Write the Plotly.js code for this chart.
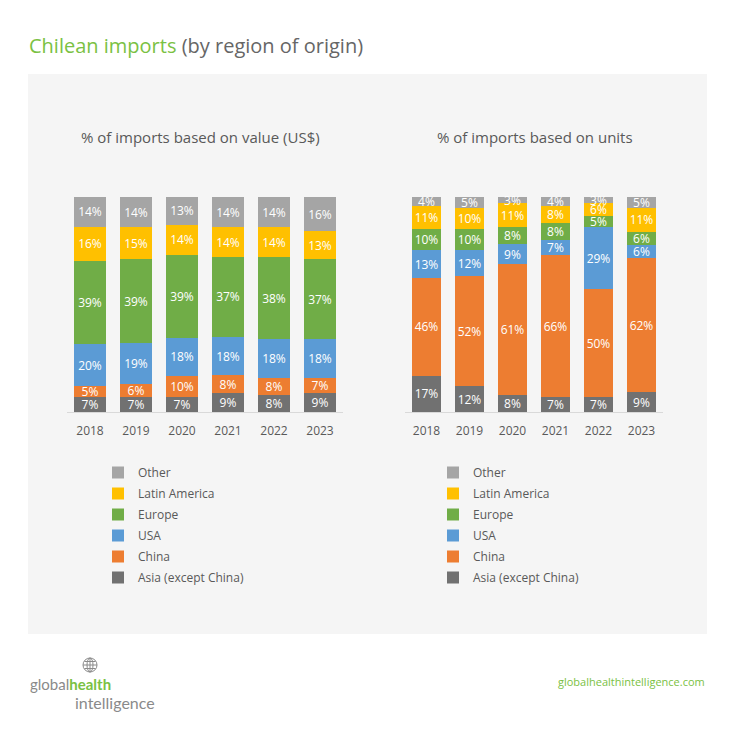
<!DOCTYPE html>
<html>
<head>
<meta charset="utf-8">
<script src="https://cdn.plot.ly/plotly-3.0.1.min.js"></script>
<style>html,body{margin:0;padding:0;background:#fff;}#chart{width:736px;height:737px;}</style>
</head>
<body>
<div id="chart"></div>
<script>
// ---- data ----
const years = ['2018', '2019', '2020', '2021', '2022', '2023'];
const regions = ['Asia (except China)', 'China', 'USA', 'Europe', 'Latin America', 'Other'];
const regionColors = ['#717171', '#ED7D31', '#5B9BD5', '#70AD47', '#FFC000', '#A5A5A5'];

// % of imports based on value (US$)
const valueAsia   = [7, 7, 7, 9, 8, 9];
const valueChina  = [5, 6, 10, 8, 8, 7];
const valueUSA    = [20, 19, 18, 18, 18, 18];
const valueEurope = [39, 39, 39, 37, 38, 37];
const valueLatAm  = [16, 15, 14, 14, 14, 13];
const valueOther  = [14, 14, 13, 14, 14, 16];

// % of imports based on units
const unitsAsia   = [17, 12, 8, 7, 7, 9];
const unitsChina  = [46, 52, 61, 66, 50, 62];
const unitsUSA    = [13, 12, 9, 7, 29, 6];
const unitsEurope = [10, 10, 8, 8, 5, 6];
const unitsLatAm  = [11, 10, 11, 8, 6, 11];
const unitsOther  = [4, 5, 3, 4, 3, 5];

const valueSeries = [valueAsia, valueChina, valueUSA, valueEurope, valueLatAm, valueOther];
const unitsSeries = [unitsAsia, unitsChina, unitsUSA, unitsEurope, unitsLatAm, unitsOther];

const W = 736, H = 737;
const px = v => v / W;
const py = v => 1 - v / H;

const FONT = '"Open Sans", Lato, sans-serif';
const LOGO_FONT = 'Lato, sans-serif';
const GREY_TEXT = '#595959';

const traces = [];
function addSeries(series, xa, ya, legendId, tag) {
  series.forEach((vals, i) => {
    traces.push({
      type: 'bar',
      name: regions[i],
      x: years,
      y: vals,
      xaxis: xa,
      yaxis: ya,
      legend: legendId,
      legendgroup: tag + i,
      legendrank: 100 - i,
      marker: {color: regionColors[i], line: {width: 0}},
      text: vals.map(v => v + '%'),
      textposition: 'inside',
      insidetextanchor: 'middle',
      constraintext: 'none',
      textangle: 0,
      textfont: {color: '#ffffff', size: 12, family: FONT},
      cliponaxis: false,
      hoverinfo: 'name+y'
    });
  });
}
addSeries(valueSeries, 'x', 'y', 'legend', 'v');
addSeries(unitsSeries, 'x2', 'y2', 'legend2', 'u');

const yDom = [py(412), py(196.5)];
const axisX = {
  type: 'category',
  showgrid: false, zeroline: false, showline: true, linecolor: '#D9D9D9', linewidth: 1,
  ticks: '', tickfont: {size: 12, color: GREY_TEXT, family: FONT}, ticklabelstandoff: 8,
  fixedrange: true, range: [-0.5, 5.5]
};
const axisY = {
  showgrid: false, zeroline: false, showline: false, showticklabels: false,
  range: [0, 100.25], fixedrange: true
};

const legendBase = {
  orientation: 'v', traceorder: 'grouped', bgcolor: 'rgba(0,0,0,0)',
  font: {size: 12, color: GREY_TEXT, family: FONT},
  xanchor: 'left', yanchor: 'top', borderwidth: 0, tracegroupgap: 2
};

const layout = {
  width: W, height: H,
  margin: {l: 0, r: 0, t: 0, b: 0},
  paper_bgcolor: '#ffffff',
  plot_bgcolor: 'rgba(0,0,0,0)',
  barmode: 'stack',
  barnorm: 'percent',
  bargap: 0.31,
  font: {family: FONT, color: GREY_TEXT},
  xaxis: Object.assign({}, axisX, {domain: [px(67), px(343)], anchor: 'y'}),
  yaxis: Object.assign({}, axisY, {domain: yDom, anchor: 'x'}),
  xaxis2: Object.assign({}, axisX, {domain: [px(405), px(663)], anchor: 'y2'}),
  yaxis2: Object.assign({}, axisY, {domain: yDom, anchor: 'x2'}),
  showlegend: true,
  legend: Object.assign({}, legendBase, {x: px(98), y: py(458)}),
  legend2: Object.assign({}, legendBase, {x: px(433), y: py(458)}),
  shapes: [
    {type: 'rect', xref: 'paper', yref: 'paper', x0: px(28), x1: px(707), y0: py(634), y1: py(74),
     fillcolor: '#F5F5F5', line: {width: 0}, layer: 'below'},
    // globe icon
    {type: 'circle', xref: 'paper', yref: 'paper', x0: px(83), x1: px(97), y0: py(672), y1: py(658),
     line: {color: '#8a8a8a', width: 1}},
    {type: 'circle', xref: 'paper', yref: 'paper', x0: px(87), x1: px(93), y0: py(672), y1: py(658),
     line: {color: '#8a8a8a', width: 1}},
    {type: 'line', xref: 'paper', yref: 'paper', x0: px(90), x1: px(90), y0: py(672), y1: py(658),
     line: {color: '#8a8a8a', width: 1}},
    {type: 'line', xref: 'paper', yref: 'paper', x0: px(83), x1: px(97), y0: py(665), y1: py(665),
     line: {color: '#8a8a8a', width: 1}},
    {type: 'line', xref: 'paper', yref: 'paper', x0: px(84.5), x1: px(95.5), y0: py(661.5), y1: py(661.5),
     line: {color: '#8a8a8a', width: 1}},
    {type: 'line', xref: 'paper', yref: 'paper', x0: px(84.5), x1: px(95.5), y0: py(668.5), y1: py(668.5),
     line: {color: '#8a8a8a', width: 1}}
  ],
  annotations: [
    {xref: 'paper', yref: 'paper', x: px(27), y: py(45), xanchor: 'left', yanchor: 'middle', showarrow: false,
     text: '<span style="color:#7AC143">Chilean imports</span> <span style="color:#666666">(by region of origin)</span>',
     font: {size: 20, family: FONT}},
    {xref: 'paper', yref: 'paper', x: px(200), y: py(137), xanchor: 'center', yanchor: 'middle', showarrow: false,
     text: '% of imports based on value (US$)', font: {size: 15, color: GREY_TEXT, family: FONT}},
    {xref: 'paper', yref: 'paper', x: px(535), y: py(137), xanchor: 'center', yanchor: 'middle', showarrow: false,
     text: '% of imports based on units', font: {size: 15, color: GREY_TEXT, family: FONT}},
    {xref: 'paper', yref: 'paper', x: px(28), y: py(684), xanchor: 'left', yanchor: 'middle', showarrow: false,
     text: '<span style="color:#8a8a8a">global</span><b><span style="color:#7AC143">health</span></b>',
     font: {size: 15, family: LOGO_FONT}},
    {xref: 'paper', yref: 'paper', x: px(73), y: py(702), xanchor: 'left', yanchor: 'middle', showarrow: false,
     text: 'intelligence', font: {size: 16, color: '#8a8a8a', family: LOGO_FONT}},
    {xref: 'paper', yref: 'paper', x: px(707), y: py(681), xanchor: 'right', yanchor: 'middle', showarrow: false,
     text: 'globalhealthintelligence.com', font: {size: 11, color: '#7AC143', family: FONT}}
  ]
};

Plotly.newPlot('chart', traces, layout, {displayModeBar: false, staticPlot: true});
</script>
</body>
</html>
